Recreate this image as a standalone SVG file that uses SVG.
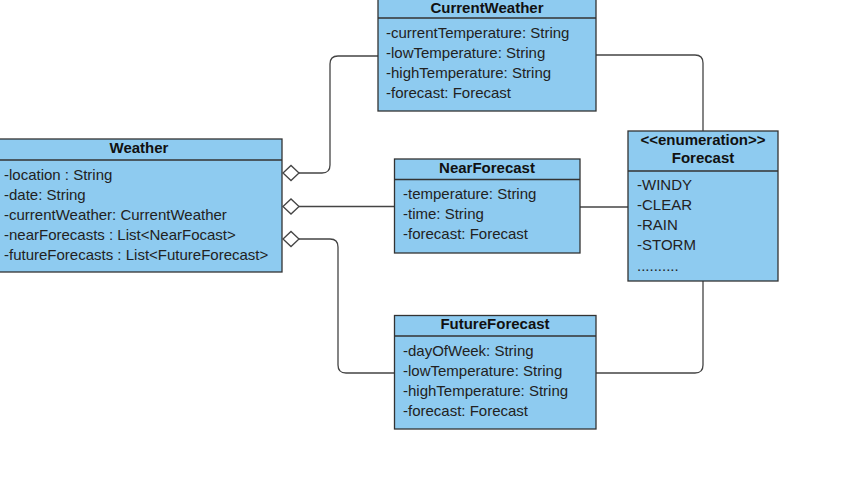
<svg xmlns="http://www.w3.org/2000/svg" width="853" height="477" viewBox="0 0 853 477">
<defs>
<style>
.box{fill:#8ECBF0;stroke:#333333;stroke-width:1.3}
.sep{stroke:#333333;stroke-width:1.3}
.t{font-family:"Liberation Sans",Arial,sans-serif;font-size:15px;fill:#222222}
.h{font-family:"Liberation Sans",Arial,sans-serif;font-size:15px;font-weight:bold;fill:#111111;text-anchor:middle}
.c{fill:none;stroke:#444444;stroke-width:1.3}
.d{fill:#ffffff;stroke:#444444;stroke-width:1.3}
</style>
</defs>
<rect width="853" height="477" fill="#ffffff"/>
<g id="connectors">
<path class="c" d="M299,173 H322 Q330,173 330,165 V64 Q330,56 338,56 H378"/>
<path class="d" d="M283,173 L291,165.5 L299,173 L291,180.5 Z"/>
<path class="c" d="M299,206.5 H394.5"/>
<path class="d" d="M283,206.5 L291,199 L299,206.5 L291,214 Z"/>
<path class="c" d="M299,239 H330 Q338,239 338,247 V365 Q338,373 346,373 H394.5"/>
<path class="d" d="M283,239 L291,231.5 L299,239 L291,246.5 Z"/>
<path class="c" d="M596,55 H695 Q703,55 703,63 V131"/>
<path class="c" d="M580,207 H628"/>
<path class="c" d="M596,373 H695 Q703,373 703,365 V281"/>
</g>
<g id="Weather">
<rect class="box" x="-4" y="139" width="286" height="133"/>
<line class="sep" x1="-4" y1="160" x2="282" y2="160"/>
<text class="h" x="139" y="153">Weather</text>
<text class="t" x="4" y="180">-location : String</text>
<text class="t" x="4" y="200">-date: String</text>
<text class="t" x="4" y="220">-currentWeather: CurrentWeather</text>
<text class="t" x="4" y="240">-nearForecasts : List&lt;NearFocast&gt;</text>
<text class="t" x="4" y="260">-futureForecasts : List&lt;FutureForecast&gt;</text>
</g>
<g id="CurrentWeather">
<rect class="box" x="378" y="-3" width="218" height="114"/>
<line class="sep" x1="378" y1="18" x2="596" y2="18"/>
<text class="h" x="487" y="13">CurrentWeather</text>
<text class="t" x="386" y="38">-currentTemperature: String</text>
<text class="t" x="386" y="58">-lowTemperature: String</text>
<text class="t" x="386" y="78">-highTemperature: String</text>
<text class="t" x="386" y="98">-forecast: Forecast</text>
</g>
<g id="NearForecast">
<rect class="box" x="394.5" y="159" width="185.5" height="94"/>
<line class="sep" x1="394.5" y1="179.5" x2="580" y2="179.5"/>
<text class="h" x="487" y="173">NearForecast</text>
<text class="t" x="403" y="199">-temperature: String</text>
<text class="t" x="403" y="219">-time: String</text>
<text class="t" x="403" y="239">-forecast: Forecast</text>
</g>
<g id="Forecast">
<rect class="box" x="628" y="131" width="150" height="150"/>
<line class="sep" x1="628" y1="171" x2="778" y2="171"/>
<text class="h" x="703" y="145">&lt;&lt;enumeration&gt;&gt;</text>
<text class="h" x="703" y="163">Forecast</text>
<text class="t" x="637" y="190">-WINDY</text>
<text class="t" x="637" y="210">-CLEAR</text>
<text class="t" x="637" y="230">-RAIN</text>
<text class="t" x="637" y="250">-STORM</text>
<text class="t" x="637" y="271">..........</text>
</g>
<g id="FutureForecast">
<rect class="box" x="394.5" y="315.5" width="201.5" height="113.5"/>
<line class="sep" x1="394.5" y1="336" x2="596" y2="336"/>
<text class="h" x="495" y="329">FutureForecast</text>
<text class="t" x="403" y="356">-dayOfWeek: String</text>
<text class="t" x="403" y="376">-lowTemperature: String</text>
<text class="t" x="403" y="396">-highTemperature: String</text>
<text class="t" x="403" y="416">-forecast: Forecast</text>
</g>
</svg>
